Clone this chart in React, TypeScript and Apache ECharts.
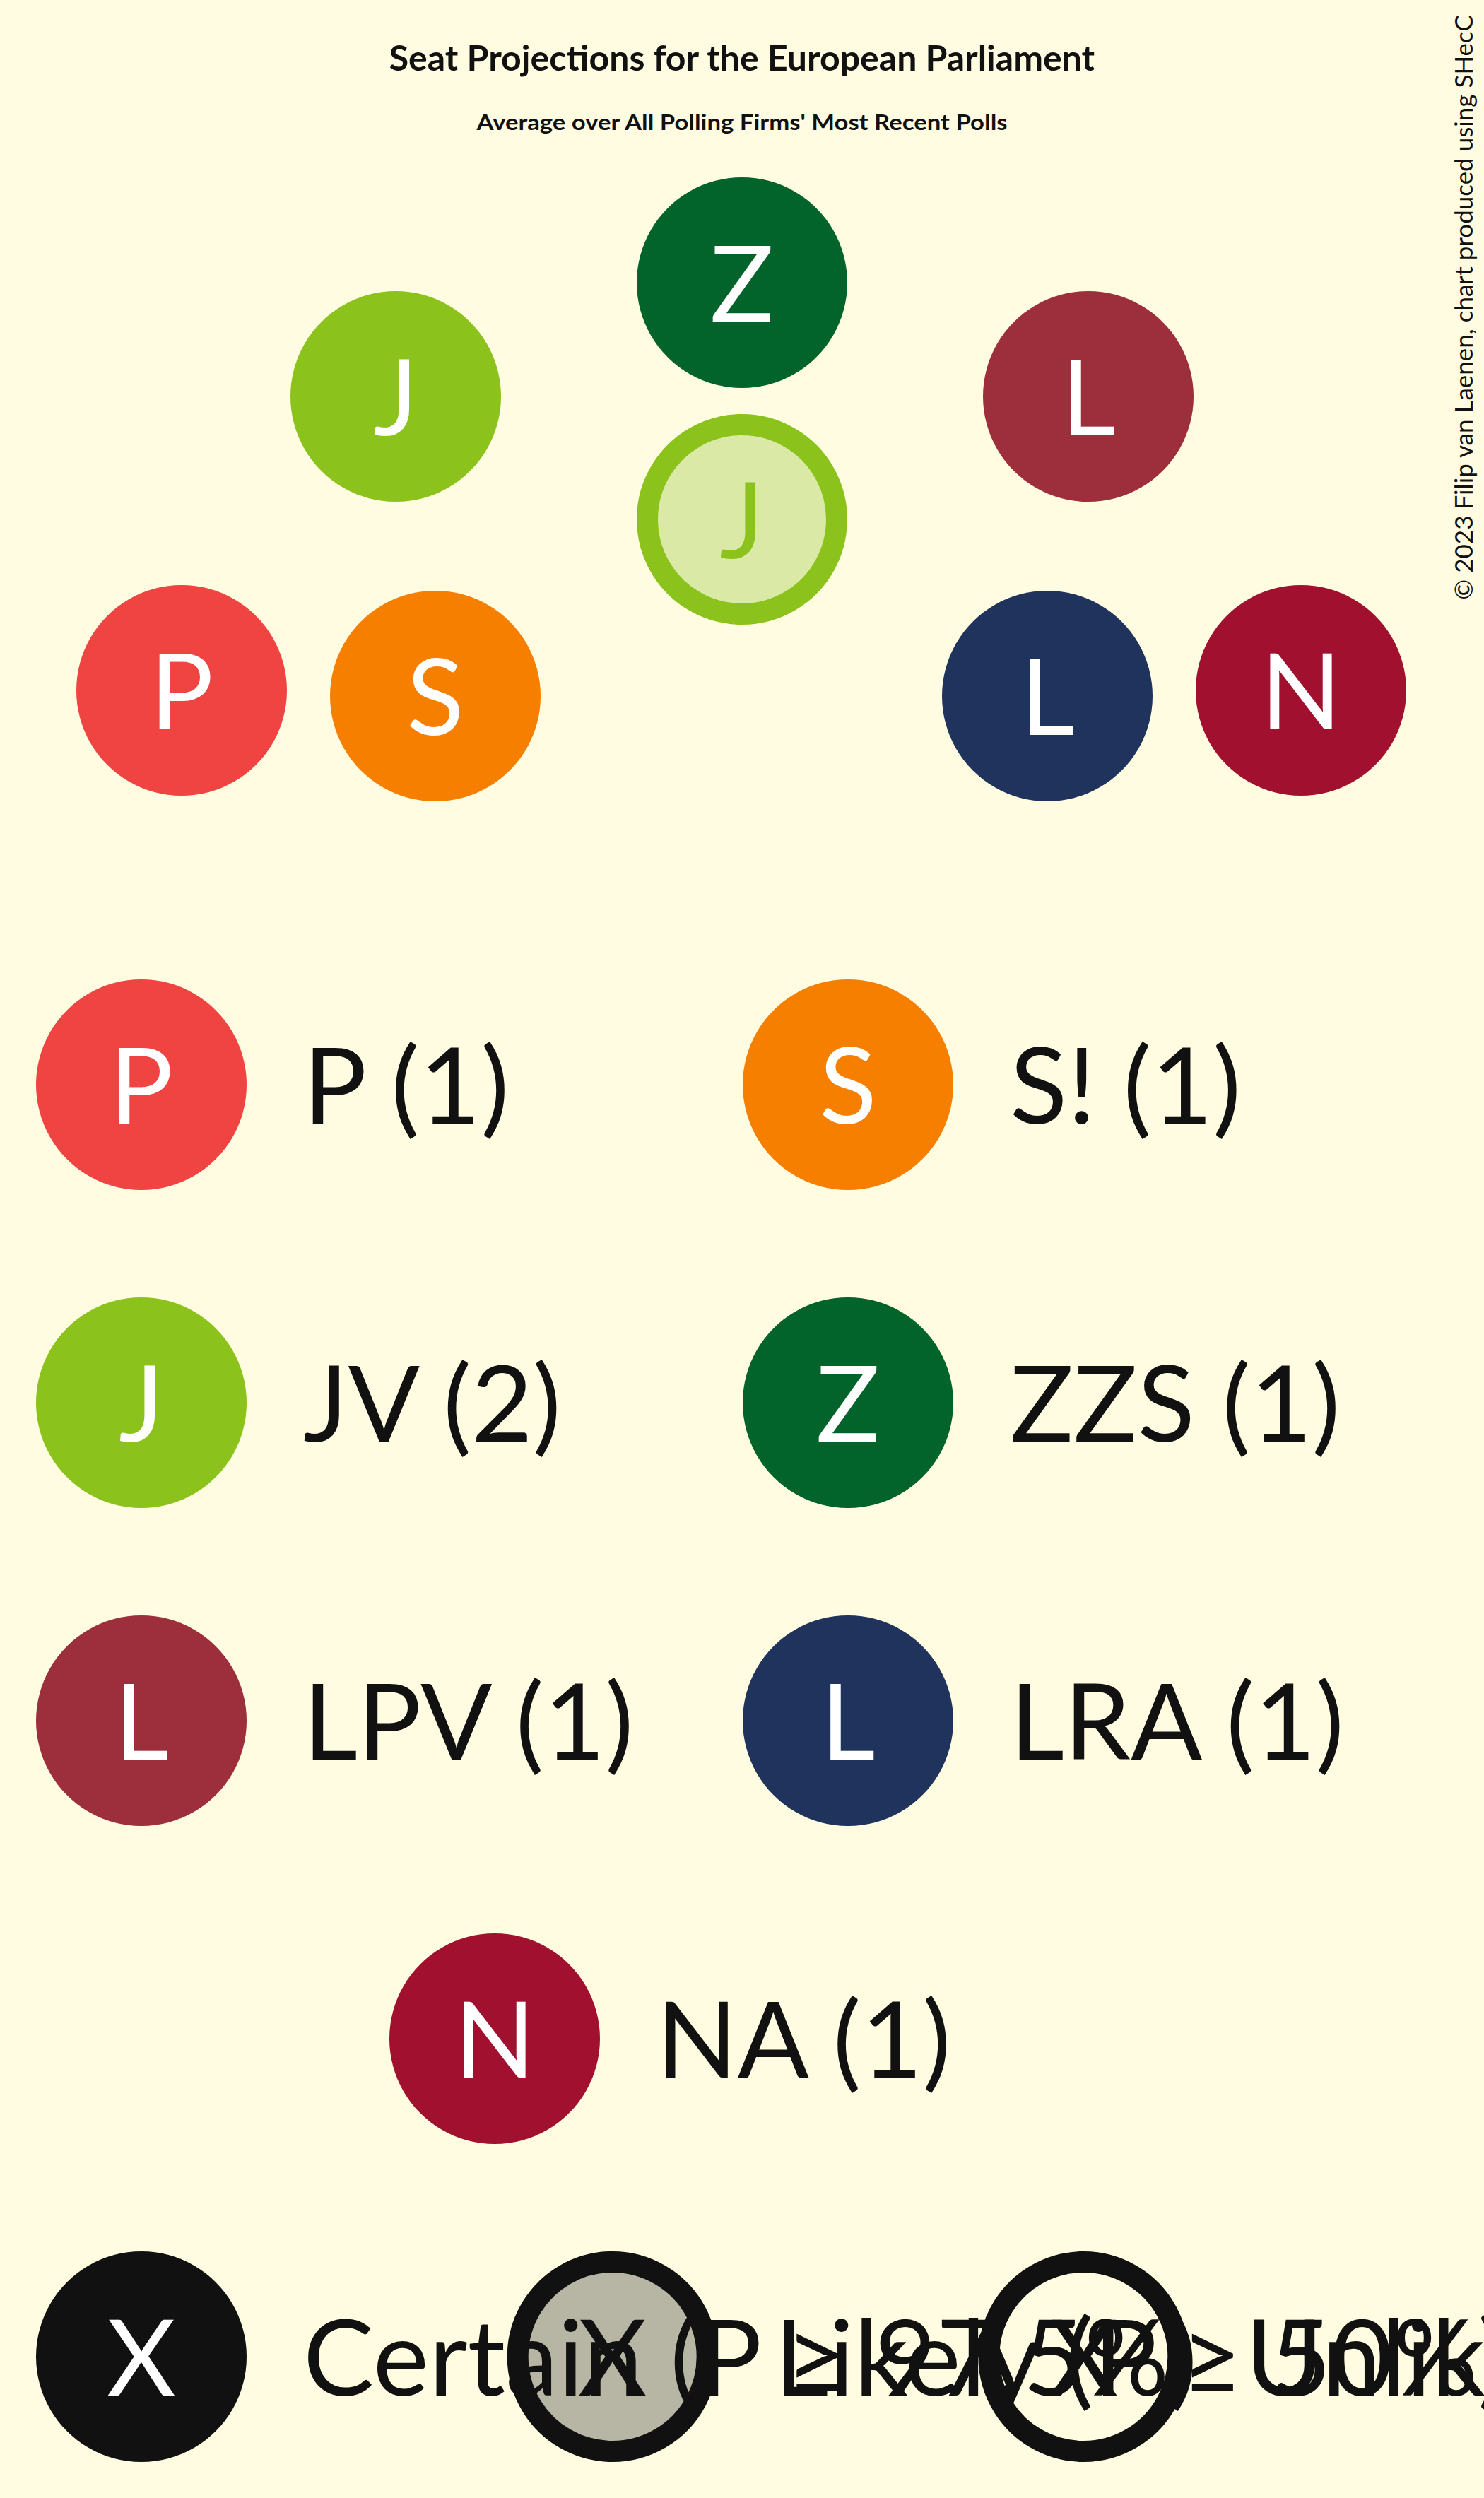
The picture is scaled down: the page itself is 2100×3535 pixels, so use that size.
import React, { useEffect, useRef } from "react";
import * as echarts from "echarts";

const W = 2100;
const H = 3535;
const BG = "#FFFCE1";
const INK = "#111111";
const FONT = "Lato";

const TITLE = "Seat Projections for the European Parliament";
const SUBTITLE = "Average over All Polling Firms' Most Recent Polls";
const COPYRIGHT = "\u00A9 2023 Filip van Laenen, chart produced using SHecC";

// Parties
const partyNames = ["P", "S!", "JV", "ZZS", "LPV", "LRA", "NA"];
const partyLetters = ["P", "S", "J", "Z", "L", "L", "N"];
const partySeats = [1, 1, 2, 1, 1, 1, 1];
const partyColors = ["#EF4441", "#F77F00", "#8CC21C", "#02632B", "#9D2E3B", "#1F335C", "#A1112F"];
const partyLightColors = ["#F8B2A9", "#FBC98A", "#DAE9A5", "#9BBC9C", "#D4A6A5", "#A4A9B4", "#D6A2A3"];

// Seats (hemicycle coordinates, seat-plot units)
const seatParty = [0, 1, 2, 2, 3, 4, 5, 6];
const seatX = [-7.93, -4.34, -4.9, 0, 0, 4.9, 4.32, 7.91];
const seatY = [0.23, 0.15, 4.39, 2.65, 6.0, 4.39, 0.15, 0.23];
const seatStatus = ["certain", "certain", "certain", "likely", "certain", "certain", "certain", "certain"];

// Status legend
const statusLabels = ["Certain (P \u2265 97.5%)", "Likely (P \u2265 50%)", "Unlikely (P < 50%)"];
const statusKeys = ["certain", "likely", "unlikely"];
const statusFill = ["#111111", "#B7B5A3", "transparent"];

const R = 149;
const BORDER = 30;
const TEXT_DY = -3;

function buildOption() {
  const seatData = seatParty.map((p, i) => {
    const likely = seatStatus[i] === "likely";
    return {
      value: [seatX[i], seatY[i]],
      symbolSize: likely ? 2 * R - BORDER : 2 * R,
      itemStyle: likely
        ? { color: partyLightColors[p], borderColor: partyColors[p], borderWidth: BORDER, opacity: 1 }
        : { color: partyColors[p], borderWidth: 0, opacity: 1 },
      label: {
        formatter: partyLetters[p],
        color: likely ? partyColors[p] : "#FFFFFF",
        opacity: 1,
      },
    };
  });

  const shapes: any[] = [];
  const texts: any[] = [];
  texts.push({
    type: "text",
    x: 1050,
    y: 81,
    style: { text: TITLE, fill: INK, fontFamily: FONT, fontSize: 50, fontWeight: "bold", align: "center", verticalAlign: "middle" },
  });
  texts.push({
    type: "text",
    x: 1050,
    y: 172,
    scaleX: 1.12,
    style: { text: SUBTITLE, fill: INK, fontFamily: FONT, fontSize: 31, fontWeight: "bold", align: "center", verticalAlign: "middle" },
  });
  texts.push({
    type: "text",
    x: 2070,
    y: 435,
    rotation: Math.PI / 2,
    style: { text: COPYRIGHT, fill: INK, fontFamily: FONT, fontSize: 35, align: "center", verticalAlign: "middle" },
  });

  // Party legend: two columns, last odd item centred
  const colX = [200, 1200];
  const rowY0 = 1535;
  const rowStep = 450;
  const textDx = 229;
  const n = partyNames.length;
  partyNames.forEach((name, i) => {
    const row = Math.floor(i / 2);
    let cx = colX[i % 2];
    if (i === n - 1 && n % 2 === 1) cx = (colX[0] + colX[1]) / 2;
    const cy = rowY0 + row * rowStep;
    shapes.push({ type: "circle", shape: { cx, cy, r: R }, style: { fill: partyColors[i] } });
    texts.push({
      type: "text",
      x: cx,
      y: cy + TEXT_DY,
      style: { text: partyLetters[i], fill: "#FFFFFF", fontFamily: FONT, fontSize: 150, align: "center", verticalAlign: "middle" },
    });
    texts.push({
      type: "text",
      x: cx + textDx,
      y: cy + TEXT_DY,
      style: { text: `${name} (${partySeats[i]})`, fill: INK, fontFamily: FONT, fontSize: 150, align: "left", verticalAlign: "middle" },
    });
  });

  // Status legend
  const statusRow = Math.ceil(n / 2);
  const sy = rowY0 + statusRow * rowStep;
  statusKeys.forEach((k, i) => {
    const cx = 200 + i * (2000 / 3);
    if (k === "certain") {
      shapes.push({ type: "circle", shape: { cx, cy: sy, r: R }, style: { fill: statusFill[i] } });
    } else {
      shapes.push({
        type: "circle",
        shape: { cx, cy: sy, r: R - BORDER / 2 },
        style: { fill: statusFill[i], stroke: INK, lineWidth: BORDER },
      });
    }
    texts.push({
      type: "text",
      x: cx,
      y: sy + TEXT_DY,
      style: { text: "X", fill: k === "certain" ? "#FFFFFF" : INK, fontFamily: FONT, fontSize: 150, align: "center", verticalAlign: "middle" },
    });
    texts.push({
      type: "text",
      x: cx + textDx,
      y: sy + TEXT_DY,
      style: { text: statusLabels[i], fill: INK, fontFamily: FONT, fontSize: 150, align: "left", verticalAlign: "middle" },
    });
  });

  return {
    animation: false,
    backgroundColor: BG,
    grid: { left: 50, width: 2000, top: 0, height: 1000, containLabel: false },
    xAxis: { type: "value", min: -10, max: 10, show: false },
    yAxis: { type: "value", min: 0, max: 10, show: false },
    series: [
      {
        type: "scatter",
        clip: false,
        symbol: "circle",
        data: seatData,
        itemStyle: { opacity: 1 },
        label: {
          show: true,
          position: "inside",
          offset: [0, TEXT_DY],
          fontFamily: FONT,
          fontSize: 150,
        },
        emphasis: { disabled: true },
      },
    ],
    graphic: [...shapes, ...texts],
  };
}

export default function App() {
  const ref = useRef<HTMLDivElement>(null);
  useEffect(() => {
    if (!ref.current) return;
    const chart = echarts.init(ref.current, undefined, { renderer: "svg", width: W, height: H });
    chart.setOption(buildOption() as any);
    return () => chart.dispose();
  }, []);
  return <div ref={ref} style={{ position: "absolute", left: 0, top: 0, width: W, height: H }} />;
}
